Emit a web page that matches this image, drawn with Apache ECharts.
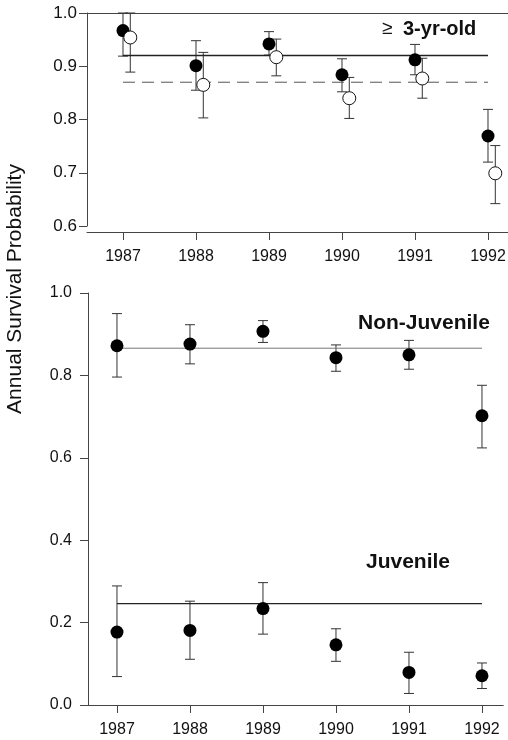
<!DOCTYPE html>
<html>
<head>
<meta charset="utf-8">
<script src="https://cdn.jsdelivr.net/npm/echarts@6/dist/echarts.min.js"></script>
<style>html,body{margin:0;padding:0;background:#fff;}#c{width:508px;height:740px;}</style>
</head>
<body>
<div id="c"></div>
<script>
const years = [1987, 1988, 1989, 1990, 1991, 1992];
const yearTicks = [1987, 1988, 1989, 1990, 1991, 1992];
const topTicks = [0.6, 0.7, 0.8, 0.9, 1.0];
const bottomTicks = [0.0, 0.2, 0.4, 0.6, 0.8, 1.0];

// >= 3-yr-old panel: filled and open estimates
const adultFilled   = [0.967, 0.901, 0.942, 0.884, 0.912, 0.769];
const adultFilledLo = [0.919, 0.855, 0.921, 0.852, 0.884, 0.720];
const adultFilledHi = [1.000, 0.948, 0.965, 0.914, 0.941, 0.819];
const adultOpen     = [0.954, 0.865, 0.917, 0.840, 0.877, 0.699];
const adultOpenLo   = [0.889, 0.803, 0.882, 0.802, 0.840, 0.642];
const adultOpenHi   = [1.000, 0.926, 0.951, 0.879, 0.915, 0.751];
const adultMeanFilled = 0.920;
const adultMeanOpen = 0.870;

// Lower panel
const nonJuv   = [0.872, 0.876, 0.907, 0.843, 0.850, 0.702];
const nonJuvLo = [0.796, 0.828, 0.880, 0.810, 0.815, 0.624];
const nonJuvHi = [0.950, 0.923, 0.933, 0.874, 0.885, 0.776];
const nonJuvMean = 0.866;
const juv   = [0.177, 0.181, 0.234, 0.146, 0.079, 0.071];
const juvLo = [0.069, 0.111, 0.172, 0.106, 0.028, 0.040];
const juvHi = [0.289, 0.252, 0.297, 0.185, 0.128, 0.102];
const juvMean = 0.246;

const OPEN_SHIFT = 0.1;
const font = 'Arial, "Liberation Sans", Helvetica, sans-serif';

function pts(xs, ys, shift) { return xs.map((x, i) => [x + shift, ys[i]]); }
function bars(xs, lo, hi, shift) { return xs.map((x, i) => [x + shift, lo[i], hi[i]]); }
function meanLine(v) { return [[years[0], v], [years[years.length - 1], v]]; }

function errRender(params, api) {
  const x = api.value(0), lo = api.value(1), hi = api.value(2);
  const a = api.coord([x, lo]), b = api.coord([x, hi]);
  const w = 5;
  const st = { stroke: '#333', lineWidth: 1 };
  return { type: 'group', children: [
    { type: 'line', shape: { x1: a[0], y1: a[1], x2: b[0], y2: b[1] }, style: st },
    { type: 'line', shape: { x1: a[0] - w, y1: a[1], x2: a[0] + w, y2: a[1] }, style: st },
    { type: 'line', shape: { x1: b[0] - w, y1: b[1], x2: b[0] + w, y2: b[1] }, style: st }
  ]};
}
function errSeries(idx, data) {
  return { type: 'custom', xAxisIndex: idx, yAxisIndex: idx, renderItem: errRender,
    encode: { x: 0, y: [1, 2] }, data: data, z: 2, silent: true };
}
function dotSeries(idx, data, open) {
  return { type: 'scatter', xAxisIndex: idx, yAxisIndex: idx, data: data, symbolSize: 13, z: 4,
    itemStyle: open ? { color: '#fff', borderColor: '#111', borderWidth: 1, opacity: 1 } : { color: '#000', opacity: 1 }, silent: true };
}
function lineSeries(idx, v, style) {
  return { type: 'line', xAxisIndex: idx, yAxisIndex: idx, data: meanLine(v), symbol: 'none', z: 3,
    lineStyle: style, silent: true };
}

const axisLineStyle = { color: '#444', width: 1 };
const labelStyle = { color: '#111', fontFamily: font, fontSize: 16 };

const option = {
  animation: false,
  backgroundColor: '#fff',
  grid: [
    { left: 87, right: 0, top: 13, height: 213, outerBoundsMode: 'none', containLabel: false },
    { left: 88, right: 5, top: 293, height: 412, outerBoundsMode: 'none', containLabel: false }
  ],
  xAxis: [
    { gridIndex: 0, type: 'value', min: 1986.507, max: 1992.274, position: 'bottom', offset: 6,
      axisLine: { show: true, lineStyle: axisLineStyle },
      axisTick: { show: true, length: 8, lineStyle: axisLineStyle, customValues: yearTicks },
      axisLabel: { ...labelStyle, margin: 17, customValues: yearTicks, formatter: v => String(v) },
      splitLine: { show: false } },
    { gridIndex: 1, type: 'value', min: 1986.603, max: 1992.288, position: 'bottom',
      axisLine: { show: true, onZero: false, lineStyle: axisLineStyle },
      axisTick: { show: true, length: 8, lineStyle: axisLineStyle, customValues: yearTicks },
      axisLabel: { ...labelStyle, margin: 17, customValues: yearTicks, formatter: v => String(v) },
      splitLine: { show: false } },
    { gridIndex: 0, type: 'value', min: 1986.507, max: 1992.274, position: 'top',
      axisLine: { show: true, lineStyle: axisLineStyle }, axisTick: { show: false }, axisLabel: { show: false }, splitLine: { show: false } },
    { gridIndex: 1, type: 'value', min: 1986.603, max: 1992.288, position: 'top',
      axisLine: { show: true, lineStyle: axisLineStyle }, axisTick: { show: false }, axisLabel: { show: false }, splitLine: { show: false } }
  ],
  yAxis: [
    { gridIndex: 0, type: 'value', min: 0.6, max: 1.0,
      axisLine: { show: true, lineStyle: axisLineStyle },
      axisTick: { show: true, length: 8, lineStyle: axisLineStyle, customValues: topTicks },
      axisLabel: { ...labelStyle, fontSize: 17, margin: 10, customValues: topTicks, formatter: v => v.toFixed(1) },
      splitLine: { show: false } },
    { gridIndex: 1, type: 'value', min: 0, max: 1.0,
      axisLine: { show: true, lineStyle: axisLineStyle },
      axisTick: { show: true, length: 8, lineStyle: axisLineStyle, customValues: bottomTicks },
      axisLabel: { ...labelStyle, margin: 16, customValues: bottomTicks, formatter: v => v.toFixed(1) },
      splitLine: { show: false } }
  ],
  series: [
    lineSeries(0, adultMeanFilled, { color: '#222', width: 1.5, type: 'solid' }),
    lineSeries(0, adultMeanOpen, { color: '#555', width: 1, type: [12, 7] }),
    errSeries(0, bars(years, adultFilledLo, adultFilledHi, 0)),
    errSeries(0, bars(years, adultOpenLo, adultOpenHi, OPEN_SHIFT)),
    dotSeries(0, pts(years, adultFilled, 0), false),
    dotSeries(0, pts(years, adultOpen, OPEN_SHIFT), true),
    lineSeries(1, nonJuvMean, { color: '#777', width: 1, type: 'solid' }),
    lineSeries(1, juvMean, { color: '#222', width: 1.2, type: 'solid' }),
    errSeries(1, bars(years, nonJuvLo, nonJuvHi, 0)),
    errSeries(1, bars(years, juvLo, juvHi, 0)),
    dotSeries(1, pts(years, nonJuv, 0), false),
    dotSeries(1, pts(years, juv, 0), false)
  ],
  graphic: [
    { type: 'text', x: 15, y: 289, rotation: Math.PI / 2,
      style: { text: 'Annual Survival Probability', font: '21px ' + font, fill: '#111', align: 'center', verticalAlign: 'middle' } },
    { type: 'text', x: 382, y: 29,
      style: { text: '{a|≥  }{b|3-yr-old}', verticalAlign: 'middle', fill: '#111',
        rich: { a: { fontFamily: font, fontSize: 19, fill: '#111' }, b: { fontFamily: font, fontSize: 20, fontWeight: 'bold', fill: '#111' } } } },
    { type: 'text', x: 358, y: 323,
      style: { text: 'Non-Juvenile', font: 'bold 21px ' + font, fill: '#111', verticalAlign: 'middle' } },
    { type: 'text', x: 366, y: 562,
      style: { text: 'Juvenile', font: 'bold 21px ' + font, fill: '#111', verticalAlign: 'middle' } }
  ]
};

const chart = echarts.init(document.getElementById('c'), null, { renderer: 'canvas' });
chart.setOption(option);
</script>
</body>
</html>
